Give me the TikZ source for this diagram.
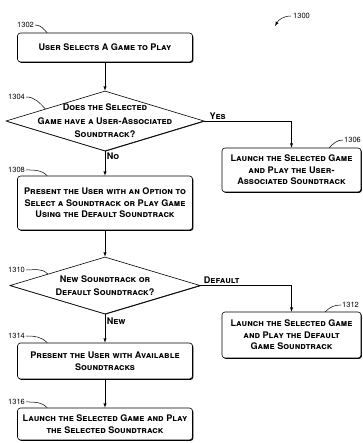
\documentclass[tikz,border=0pt]{standalone}
\usepackage{fontspec}
\setmainfont{TeX Gyre Heros}
\usetikzlibrary{arrows,shapes,shadows,calc}

\begin{document}
\begin{tikzpicture}[x=1pt,y=1pt,->,>=latex,
	step node/.style={rectangle,rounded corners=3pt,draw,line width=0.6pt,fill=white,align=center,
		font=\fontsize{9.1}{11.5}\selectfont\bfseries\scshape,minimum width=175pt,inner sep=2pt,
		drop shadow={shadow xshift=0.9pt,shadow yshift=-0.9pt,fill=black,opacity=1}},
	choice node/.style={diamond,draw,line width=0.6pt,fill=white,inner sep=0pt,
		drop shadow={shadow xshift=0.6pt,shadow yshift=-0.6pt,fill=black,opacity=1}},
	choice text/.style={align=center,inner sep=0pt,font=\fontsize{9.1}{13.5}\selectfont\bfseries\scshape},
	edge text/.style={inner sep=1.5pt,font=\fontsize{9.1}{10}\selectfont\bfseries\scshape},
	ref node/.style={font=\fontsize{7.5}{9}\selectfont,inner sep=0pt,anchor=west},
	lead/.style={-,line width=0.5pt}
]
	\useasboundingbox (0,0) rectangle (362,443);

	% left column
	\node[step node,minimum height=29pt] (b1302) at (105,395.5) {User Selects A Game to Play};
	\node[choice node,minimum width=198pt,minimum height=60pt] (d1304) at (105,322) {};
	\node[choice text] (t1304) at (d1304) {Does the Selected\\Game have a User-Associated\\Soundtrack?};
	\node[step node,minimum height=54pt] (b1308) at (105,240) {Present the User with an Option to\\Select a Soundtrack or Play Game\\Using the Default Soundtrack};
	\node[choice node,minimum width=190pt,minimum height=57pt] (d1310) at (105,157.5) {};
	\node[choice text] (t1310) at (d1310) {New Soundtrack or\\Default Soundtrack?};
	\node[step node,minimum height=36pt] (b1314) at (105,82) {Present the User with Available\\Soundtracks};
	\node[step node,minimum height=32pt] (b1316) at (105,19) {Launch the Selected Game and Play\\the Selected Soundtrack};

	% right column
	\node[step node,minimum width=139pt,minimum height=44pt] (b1306) at (291.5,273) {Launch the Selected Game\\and Play the User-\\Associated Soundtrack};
	\node[step node,minimum width=139pt,minimum height=46pt] (b1312) at (291.5,108) {Launch the Selected Game\\and Play the Default\\Game Soundtrack};

	% connectors
	\draw[line width=0.5pt] (b1302) -- (d1304);
	\draw[line width=0.5pt] (d1304.east) -| (b1306.north) node[edge text,pos=0.02,above right] (yes) {Yes};
	\draw[line width=0.5pt] (d1304) -- (b1308) node[edge text,pos=0.2,anchor=west] (no) {No};
	\draw[line width=0.5pt] (b1308) -- (d1310);
	\draw[line width=0.5pt] (d1310.east) -| (b1312.north) node[edge text,pos=0.01,above right] (default) {Default};
	\draw[line width=0.5pt] (d1310) -- (b1314) node[edge text,pos=0.25,anchor=west] (new) {New};
	\draw[line width=0.5pt] (b1314) -- (b1316);

	% reference numerals
	\node[ref node] (r1300) at (293,427) {1300};
	\node[ref node] (r1302) at (17,418) {1302};
	\node[ref node] (r1304) at (8,346) {1304};
	\node[ref node] (r1306) at (344,303) {1306};
	\node[ref node] (r1308) at (8,273) {1308};
	\node[ref node] (r1310) at (8,173) {1310};
	\node[ref node] (r1312) at (342,138) {1312};
	\node[ref node] (r1314) at (8,107) {1314};
	\node[ref node] (r1316) at (8,41) {1316};

	\coordinate (c1300) at (275,417);
	\coordinate (c1302) at ($(b1302.north west)+(30,0)$);
	\coordinate (c1304) at ($(d1304.west)!0.4!(d1304.north)$);
	\coordinate (c1306) at ($(b1306.north east)+(-32,0)$);
	\coordinate (c1308) at ($(b1308.north west)+(30,0)$);
	\coordinate (c1310) at ($(d1310.west)!0.4!(d1310.north)$);
	\coordinate (c1312) at ($(b1312.north east)+(-36,0)$);
	\coordinate (c1314) at ($(b1314.north west)+(30,0)$);
	\coordinate (c1316) at ($(b1316.north west)+(30,0)$);

	\draw[line width=0.5pt] ([xshift=-2pt]r1300.west) to[out=180,in=60] (c1300);
	\draw[lead] ([xshift=1pt]r1302.east) to[out=0,in=135] (c1302);
	\draw[lead] ([xshift=1pt]r1304.east) to[out=0,in=135] (c1304);
	\draw[lead] ([xshift=1pt]r1308.east) to[out=0,in=135] (c1308);
	\draw[lead] ([xshift=1pt]r1310.east) to[out=0,in=135] (c1310);
	\draw[lead] ([xshift=1pt]r1314.east) to[out=0,in=135] (c1314);
	\draw[lead] ([xshift=1pt]r1316.east) to[out=0,in=135] (c1316);
	\draw[lead] ([xshift=-1pt]r1306.west) to[out=180,in=45] (c1306);
	\draw[lead] ([xshift=-1pt]r1312.west) to[out=180,in=45] (c1312);

\end{tikzpicture}
\end{document}
